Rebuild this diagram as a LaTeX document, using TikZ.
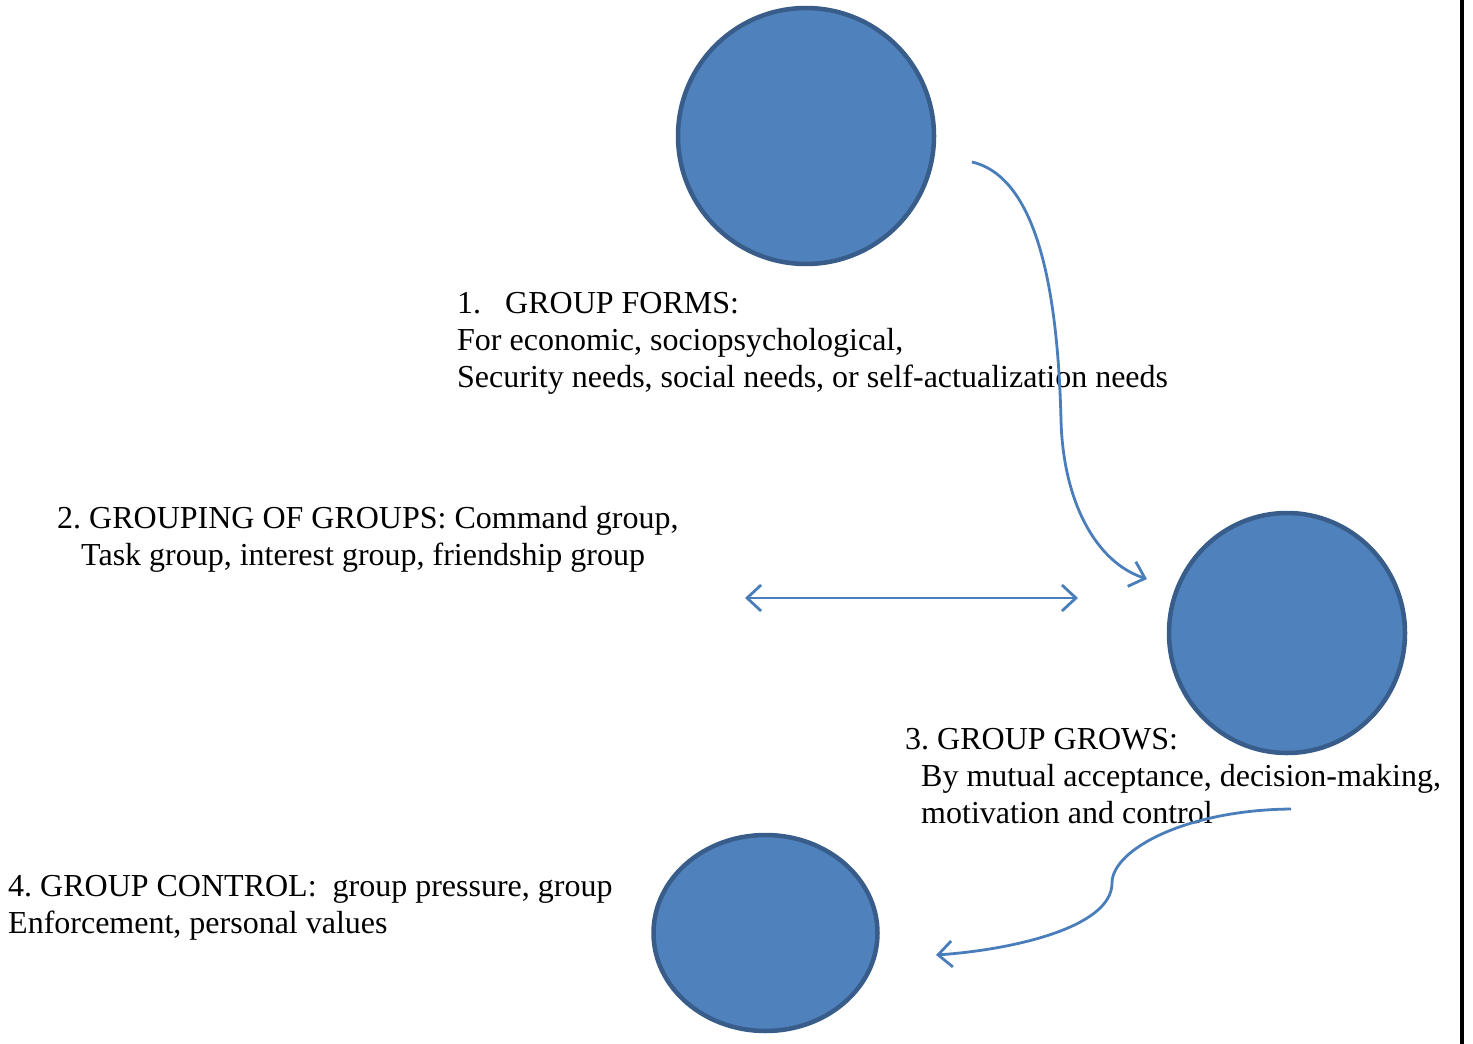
\documentclass[tikz,border=0pt]{standalone}
\usepackage{fontspec}
\setmainfont{Liberation Serif}
\usetikzlibrary{arrows.meta}
\definecolor{circfill}{HTML}{4F81BD}
\definecolor{circline}{HTML}{385D8A}
\definecolor{arrowblue}{HTML}{4A7EBB}
\frenchspacing
\begin{document}
\begin{tikzpicture}[x=1pt,y=-1pt,
  stage/.style={draw=circline,line width=4.5pt,fill=circfill},
  lbl/.style={anchor=base west,inner sep=0pt,font=\fontsize{32}{37}\selectfont},
  flow/.style={draw=arrowblue,line width=2.8pt,-{Straight Barb[length=14pt,width=26pt,line width=2.8pt]}},
  both/.style={draw=arrowblue,line width=2.8pt,{Straight Barb[length=14pt,width=26pt,line width=2.8pt]}-{Straight Barb[length=14pt,width=26pt,line width=2.8pt]}}]
\useasboundingbox (0,0) rectangle (1473,1044);
% right border line
\draw[line width=3.5pt] (1462,0) -- (1462,1044);
% circles
\draw[stage] (806,136) ellipse [x radius=128, y radius=128] node (c1) {};
\draw[stage] (1287,633) ellipse [x radius=118, y radius=120] node (c2) {};
\draw[stage] (765.5,933) ellipse [x radius=112, y radius=98] node (c3) {};
% texts
\node[lbl] (t1a) at (457,313) {1.\hspace{0.75em}GROUP FORMS:};
\node[lbl] (t1b) at (457,350) {For economic, sociopsychological,};
\node[lbl] (t1c) at (457,387) {Security needs, social needs, or self-actualization needs};
\node[lbl] (t2a) at (57,528) {2. GROUPING OF GROUPS: Command group,};
\node[lbl] (t2b) at (81,565) {Task group, interest group, friendship group};
\node[lbl] (t3a) at (905,749) {3. GROUP GROWS:};
\node[lbl] (t3b) at (921,786) {By mutual acceptance, decision-making,};
\node[lbl] (t3c) at (921,823) {motivation and control};
\node[lbl] (t4a) at (8,896) {4. GROUP CONTROL:\ \ group pressure, group};
\node[lbl] (t4b) at (8,933) {Enforcement, personal values};
% connector endpoints
\coordinate (a1s) at (972,162);
\coordinate (a1m) at (1061,420);
\coordinate (a1e) at (1147,579);
\coordinate (a2l) at (745,598);
\coordinate (a2r) at (1078,598);
\coordinate (a3s) at (1291,809);
\coordinate (a3m) at (1112,883);
\coordinate (a3e) at (936,955);
\draw[flow] (a1s) .. controls (1040,178) and (1058,300) .. (a1m)
  .. controls (1063,500) and (1095,562) .. (a1e);
\draw[both] (a2l) -- (a2r);
\draw[flow] (a3s) .. controls (1185,810) and (1112,850) .. (a3m)
  .. controls (1112,928) and (1010,950) .. (a3e);
\end{tikzpicture}
\end{document}
